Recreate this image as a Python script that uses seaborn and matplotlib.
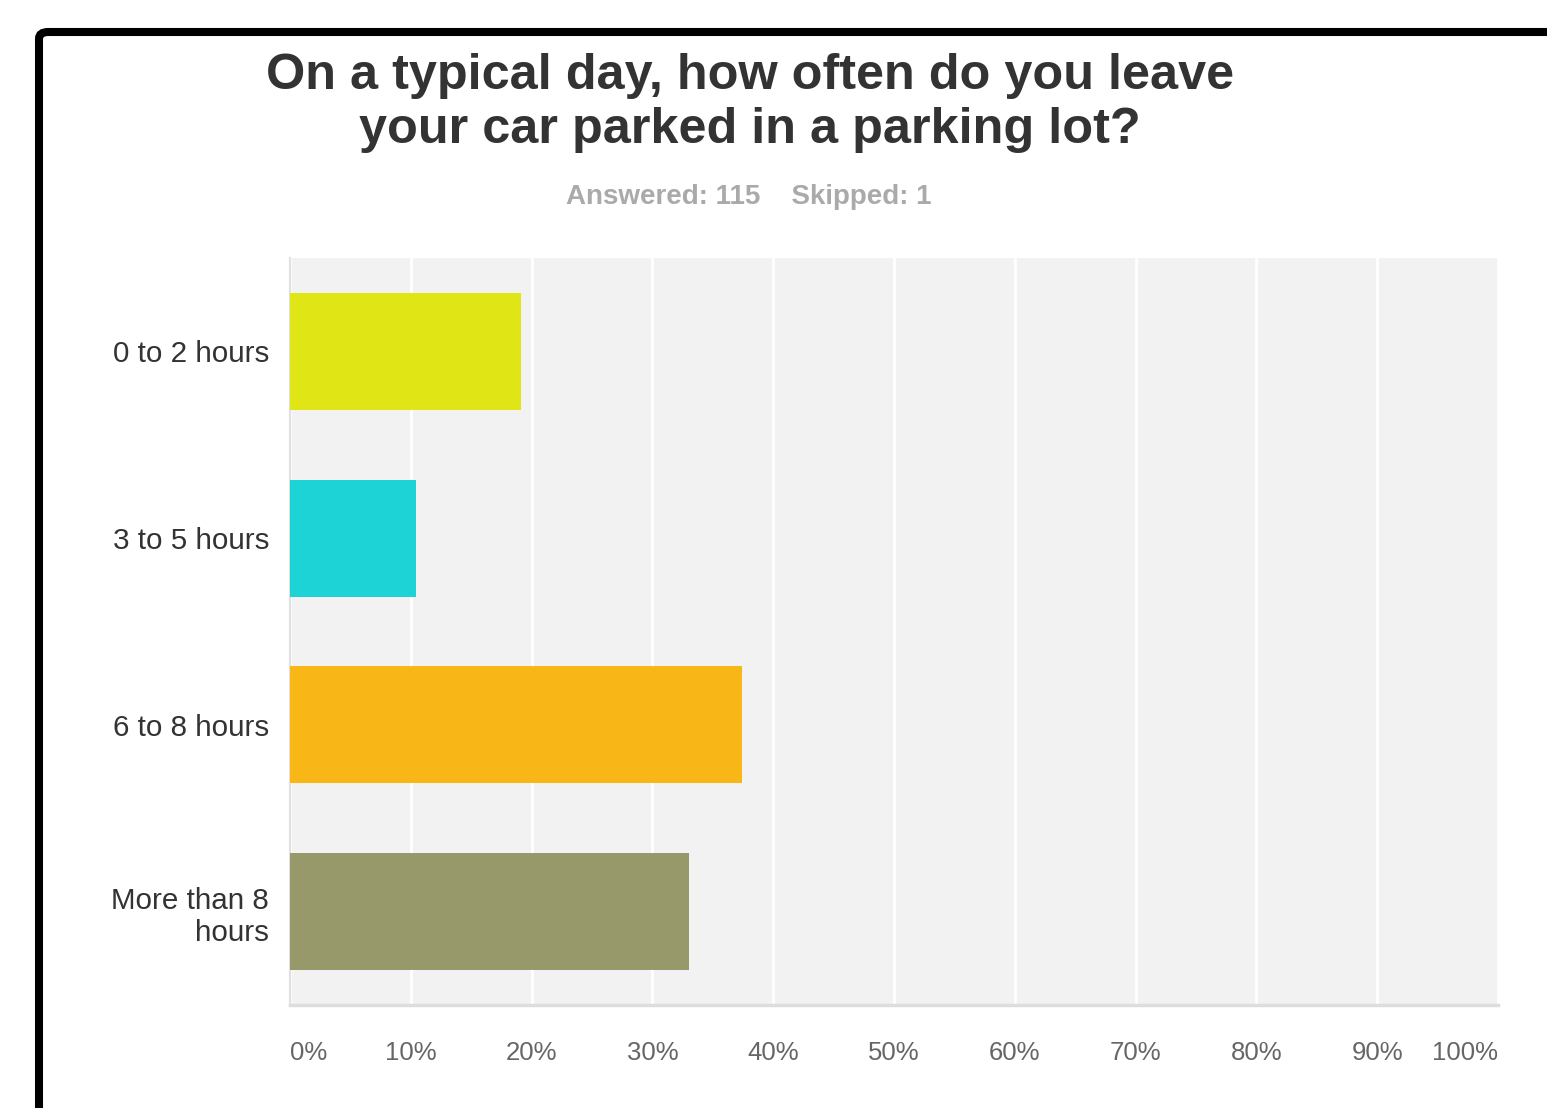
import matplotlib
matplotlib.use("Agg")
import matplotlib.pyplot as plt
import seaborn as sns
import pandas as pd
from matplotlib.patches import FancyBboxPatch

categories = ["0 to 2 hours", "3 to 5 hours", "6 to 8 hours", "More than 8\nhours"]
values = [19.13, 10.43, 37.39, 33.04]
colors = ["#E0E615", "#1DD3D6", "#F8B717", "#97996A"]
tick_values = [0, 10, 20, 30, 40, 50, 60, 70, 80, 90, 100]
tick_labels = ["0%", "10%", "20%", "30%", "40%", "50%", "60%", "70%", "80%", "90%", "100%"]
title = "On a typical day, how often do you leave\nyour car parked in a parking lot?"
subtitle = "Answered: 115    Skipped: 1"

sns.set_theme(style="white")
plt.rcParams['font.family'] = ['Liberation Sans', 'DejaVu Sans']

df = pd.DataFrame({"category": categories, "value": values})

W, H = 1547, 1108
fig = plt.figure(figsize=(W / 100, H / 100), dpi=100)
ax = fig.add_axes([290 / W, 1 - 1005 / H, (1498 - 290) / W, (1005 - 258) / H])

sns.barplot(data=df, y="category", x="value", hue="category", palette=colors,
            orient="h", width=0.626, legend=False, ax=ax, saturation=1, zorder=3,
            linewidth=0)

ax.set_facecolor("#F2F2F2")
ax.set_xlim(0, 100)
ax.set_ylim(3.5, -0.5)
ax.set_xticks(tick_values)
ax.set_xticklabels(tick_labels, fontsize=18.5, color="#666666")
xl = ax.get_xticklabels()
xl[0].set_horizontalalignment("left")
xl[-1].set_horizontalalignment("right")
ax.tick_params(axis="x", length=0, pad=26)
ax.tick_params(axis="y", length=0, pad=15, labelsize=21.3, labelcolor="#333333")
for lab in ax.get_yticklabels():
    lab.set_horizontalalignment("right")
ax.set_xlabel("")
ax.set_ylabel("")
ax.grid(axis="x", color="white", linewidth=2, zorder=1)
ax.set_axisbelow(True)
for s in ["top", "right"]:
    ax.spines[s].set_visible(False)
ax.spines["left"].set_color("#E0E0E0")
ax.spines["left"].set_linewidth(1.5)
ax.spines["bottom"].set_color("#DDDDDD")
ax.spines["bottom"].set_linewidth(2.5)

fig.text(750 / W, 1 - 103 / H, title, ha="center", va="center", fontsize=36.3,
         fontweight="bold", color="#333333", linespacing=1.2)
fig.text(749 / W, 1 - 197 / H, subtitle, ha="center", va="center", fontsize=20,
         fontweight="bold", color="#AAAAAA")

frame = FancyBboxPatch((39 / W, -0.2), 1.3, (1 - 32 / H) + 0.2,
                       boxstyle="round,pad=0,rounding_size=0.006",
                       transform=fig.transFigure, facecolor="none",
                       edgecolor="black", linewidth=5.8)
fig.patches.append(frame)

fig.savefig("out.png", dpi=100)
